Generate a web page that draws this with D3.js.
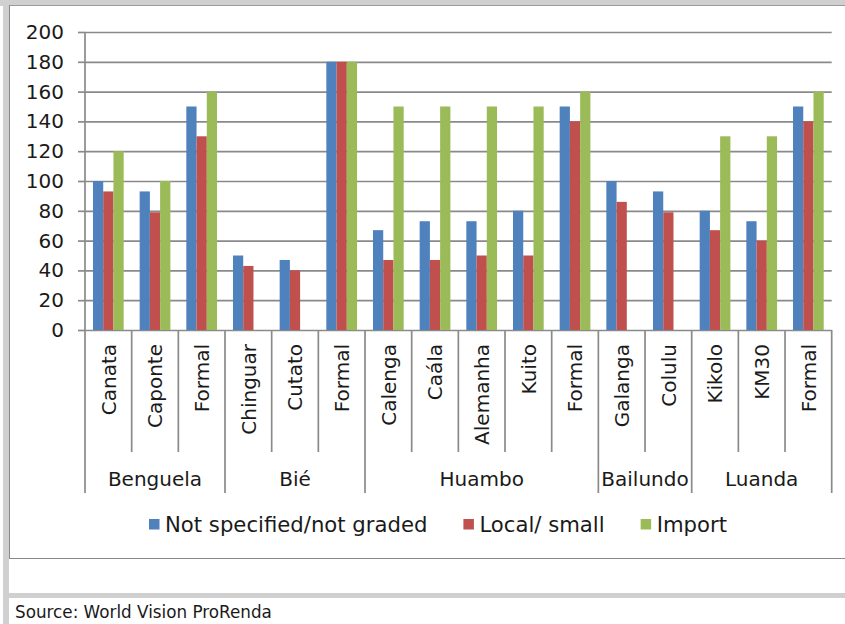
<!DOCTYPE html>
<html>
<head>
<meta charset="utf-8">
<script src="https://cdn.jsdelivr.net/npm/d3@7"></script>
<style>
  html, body { margin: 0; padding: 0; background: #ffffff; }
  svg { display: block; }
  text { font-family: "DejaVu Sans", Verdana, sans-serif; fill: #1a1a1a; }
</style>
</head>
<body>
<svg id="chart" width="845" height="624"></svg>
<script>
// Market categories, grouped by province
const categories = ["Canata", "Caponte", "Formal", "Chinguar", "Cutato", "Formal",
  "Calenga", "Caála", "Alemanha", "Kuito", "Formal", "Galanga", "Colulu",
  "Kikolo", "KM30", "Formal"];
const regions = ["Benguela", "Bié", "Huambo", "Bailundo", "Luanda"];
const regionSizes = [3, 3, 5, 2, 3];

// Series values, one per category
const notSpecified = [100, 93, 150, 50, 47, 180, 67, 73, 73, 80, 150, 100, 93, 80, 73, 150];
const localSmall   = [93, 79, 130, 43, 40, 180, 47, 47, 50, 50, 140, 86, 79, 67, 60, 140];
const importVals   = [120, 100, 160, 0, 0, 180, 150, 150, 150, 150, 160, 0, 0, 130, 130, 160];

const seriesNames = ["Not specified/not graded", "Local/ small", "Import"];
const seriesColors = ["#4f81bd", "#c0504d", "#9bbb59"];
const yTicks = [0, 20, 40, 60, 80, 100, 120, 140, 160, 180, 200];
const sourceText = "Source: World Vision ProRenda";

const svg = d3.select("#chart");
const lineColor = "#8a8a8a";

// Frame around the chart area and the source note
svg.append("rect").attr("x", 0).attr("y", 0).attr("width", 845).attr("height", 6).attr("fill", "#d0d0d0");
svg.append("line").attr("x1", 9).attr("x2", 845).attr("y1", 5.5).attr("y2", 5.5).attr("stroke", "#9a9a9a");
svg.append("rect").attr("x", 3).attr("y", 0).attr("width", 6).attr("height", 624).attr("fill", "#d0d0d0");
svg.append("line").attr("x1", 9.5).attr("x2", 9.5).attr("y1", 5).attr("y2", 559).attr("stroke", lineColor);
svg.append("line").attr("x1", 9).attr("x2", 845).attr("y1", 558.5).attr("y2", 558.5).attr("stroke", lineColor);
svg.append("rect").attr("x", 3).attr("y", 593).attr("width", 842).attr("height", 5).attr("fill", "#d0d0d0");

const plot = { left: 85, right: 831.7, top: 32, bottom: 330 };

const y = d3.scaleLinear().domain([0, 200]).range([plot.bottom, plot.top]);
const x = d3.scaleBand().domain(d3.range(categories.length)).range([plot.left, plot.right]).padding(0);
const xs = d3.scaleBand().domain(d3.range(seriesNames.length)).range([0, x.bandwidth()])
  .paddingInner(0).paddingOuter(0.78);

// Horizontal gridlines
svg.append("g")
  .attr("transform", `translate(${plot.left},0)`)
  .call(d3.axisLeft(y).tickValues(yTicks).tickSize(-(plot.right - plot.left)).tickFormat(""))
  .call(g => g.select(".domain").remove())
  .call(g => g.selectAll(".tick line").attr("stroke", lineColor).attr("stroke-width", 1.7));

// Y axis with outward ticks and labels
svg.append("g")
  .attr("transform", `translate(${plot.left},0)`)
  .call(d3.axisLeft(y).tickValues(yTicks).tickSize(7).tickPadding(14).tickSizeOuter(0))
  .call(g => g.select(".domain").remove())
  .call(g => g.selectAll(".tick line").attr("stroke", lineColor).attr("stroke-width", 1.7))
  .call(g => g.selectAll(".tick text")
    .attr("font-size", 20).attr("fill", "#1a1a1a")
    .style("font-family", '"DejaVu Sans", Verdana, sans-serif'));

// Bars
const series = [notSpecified, localSmall, importVals];
const groups = svg.append("g").selectAll("g")
  .data(categories.map((c, i) => i))
  .join("g")
  .attr("transform", i => `translate(${x(i)},0)`);

groups.selectAll("rect")
  .data(i => series.map((s, k) => ({ k, v: s[i] })).filter(d => d.v > 0))
  .join("rect")
  .attr("x", d => xs(d.k))
  .attr("width", xs.bandwidth())
  .attr("y", d => y(d.v))
  .attr("height", d => y(0) - y(d.v))
  .attr("fill", d => seriesColors[d.k]);

// Y axis line, running down through the category label area
const groupBottom = 493;
const catBottom = 452;
svg.append("line")
  .attr("x1", plot.left).attr("x2", plot.left)
  .attr("y1", plot.top).attr("y2", groupBottom)
  .attr("stroke", lineColor).attr("stroke-width", 1.7);

// Category separators: short ones inside a region, long ones at region edges
const regionEdges = new Set([0]);
let acc = 0;
regionSizes.forEach(n => { acc += n; regionEdges.add(acc); });
const edges = d3.range(1, categories.length + 1);
svg.append("g").selectAll("line")
  .data(edges)
  .join("line")
  .attr("x1", i => plot.left + i * x.step())
  .attr("x2", i => plot.left + i * x.step())
  .attr("y1", plot.bottom)
  .attr("y2", i => regionEdges.has(i) ? groupBottom : catBottom)
  .attr("stroke", lineColor).attr("stroke-width", 1.7);

// Rotated category labels
svg.append("g").selectAll("text")
  .data(categories)
  .join("text")
  .attr("transform", (d, i) => `translate(${x(i) + x.bandwidth() / 2},344) rotate(-90)`)
  .attr("text-anchor", "end")
  .attr("dy", "0.36em")
  .attr("font-size", 20)
  .text(d => d);

// Region labels
let start = 0;
const regionSpans = regions.map((r, k) => {
  const s = start; start += regionSizes[k];
  return { r, s, e: start };
});
svg.append("g").selectAll("text")
  .data(regionSpans)
  .join("text")
  .attr("x", d => plot.left + (d.s + d.e) / 2 * x.step())
  .attr("y", 479)
  .attr("dy", "0.36em")
  .attr("text-anchor", "middle")
  .attr("font-size", 20)
  .text(d => d.r);

// Legend
const legend = svg.append("g");
let lx = 149;
seriesNames.forEach((name, k) => {
  legend.append("rect").attr("x", lx).attr("y", 519).attr("width", 10.5).attr("height", 10.5)
    .attr("fill", seriesColors[k]);
  const t = legend.append("text").attr("x", lx + 16).attr("y", 524).attr("dy", "0.36em")
    .attr("font-size", 21.2).text(name);
  lx += 16 + t.node().getComputedTextLength() + 36;
});

// Source note
svg.append("text").attr("x", 15).attr("y", 618).attr("font-size", 16.8).attr("fill", "#333")
  .text(sourceText);
</script>
</body>
</html>
